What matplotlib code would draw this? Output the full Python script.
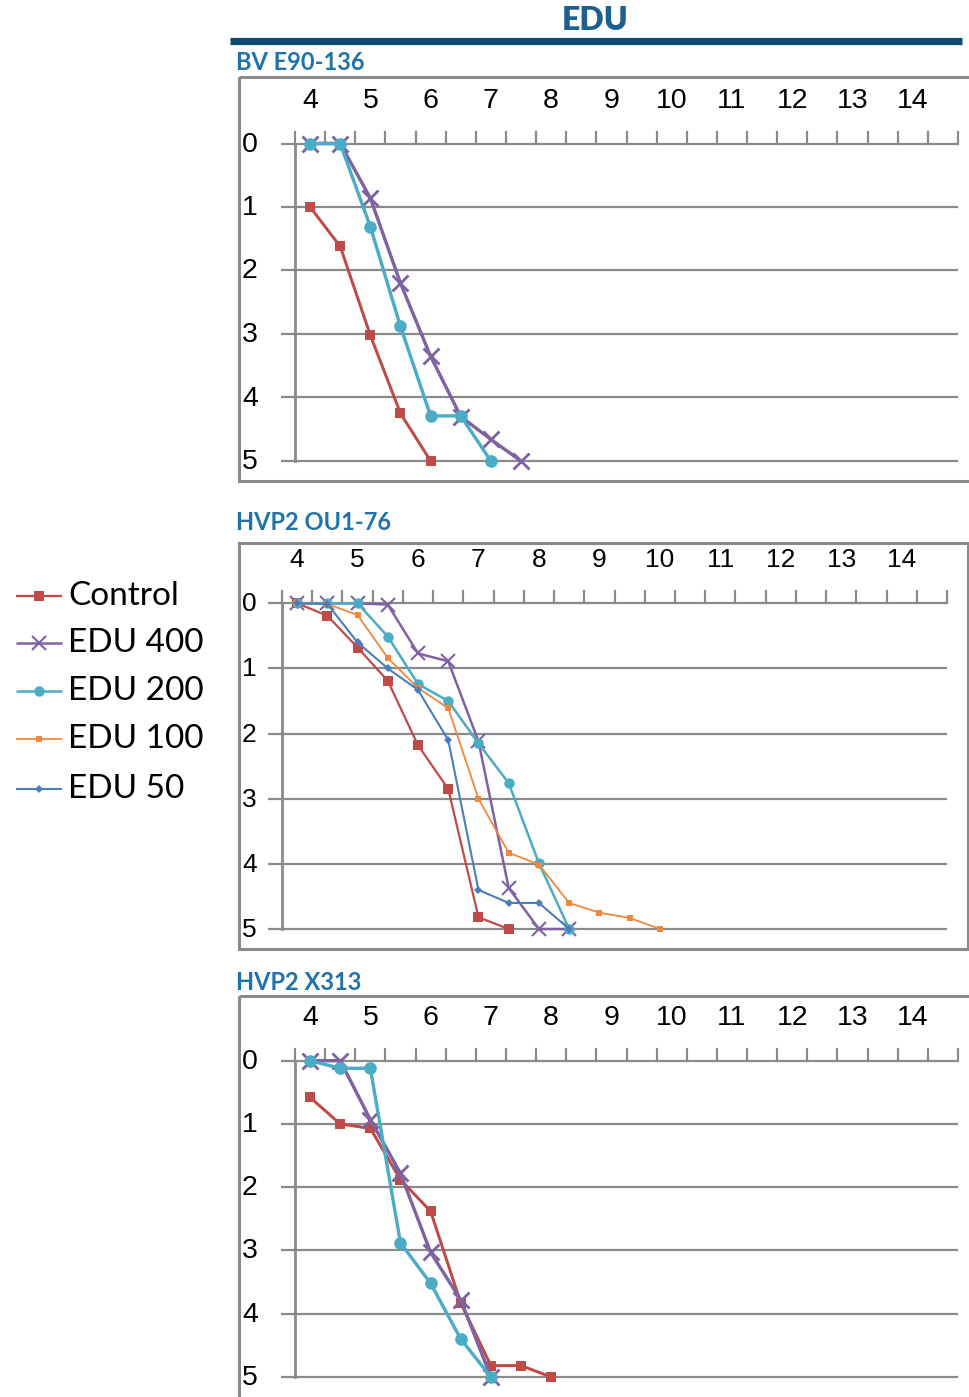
import matplotlib
matplotlib.use("Agg")
import matplotlib.pyplot as plt
from matplotlib.patches import Rectangle

W, H = 969, 1397
DPI = 100

# ---------------- data ----------------
series_names = ["Control", "EDU 400", "EDU 200", "EDU 100", "EDU 50"]
panel_titles = ["BV E90-136", "HVP2 OU1-76", "HVP2 X313"]
x_tick_labels = [4, 5, 6, 7, 8, 9, 10, 11, 12, 13, 14]
y_tick_labels = [0, 1, 2, 3, 4, 5]

# Panel 1: BV E90-136
p1_control_x = [4, 4.5, 5, 5.5, 6]
p1_control_y = [1.0, 1.62, 3.02, 4.25, 5.0]
p1_edu400_x = [4, 4.5, 5, 5.5, 6, 6.5, 7, 7.5]
p1_edu400_y = [0, 0, 0.86, 2.2, 3.35, 4.3, 4.66, 5.0]
p1_edu200_x = [4, 4.5, 5, 5.5, 6, 6.5, 7]
p1_edu200_y = [0, 0, 1.31, 2.88, 4.29, 4.29, 5.0]

# Panel 2: HVP2 OU1-76
p2_control_x = [4, 4.5, 5, 5.5, 6, 6.5, 7, 7.5]
p2_control_y = [0, 0.19, 0.68, 1.19, 2.18, 2.85, 4.82, 5.0]
p2_edu400_x = [4, 4.5, 5, 5.5, 6, 6.5, 7, 7.5, 8, 8.5]
p2_edu400_y = [0, 0, 0, 0.02, 0.77, 0.89, 2.12, 4.37, 5.0, 5.0]
p2_edu200_x = [4, 4.5, 5, 5.5, 6, 6.5, 7, 7.5, 8, 8.5]
p2_edu200_y = [0, 0, 0, 0.51, 1.24, 1.5, 2.15, 2.76, 3.99, 5.0]
p2_edu100_x = [4, 4.5, 5, 5.5, 6, 6.5, 7, 7.5, 8, 8.5, 9, 9.5, 10]
p2_edu100_y = [0, 0.01, 0.18, 0.84, 1.3, 1.61, 3.0, 3.83, 4.01, 4.6, 4.75, 4.83, 5.0]
p2_edu50_x = [4, 4.5, 5, 5.5, 6, 6.5, 7, 7.5, 8, 8.5]
p2_edu50_y = [0, 0.01, 0.6, 1.0, 1.33, 2.1, 4.4, 4.6, 4.6, 5.0]

# Panel 3: HVP2 X313
p3_control_x = [4, 4.5, 5, 5.5, 6, 6.5, 7, 7.5, 8]
p3_control_y = [0.58, 1.0, 1.07, 1.88, 2.38, 3.83, 4.82, 4.82, 5.0]
p3_edu400_x = [4, 4.5, 5, 5.5, 6, 6.5, 7]
p3_edu400_y = [0, 0, 0.93, 1.78, 3.03, 3.78, 5.0]
p3_edu200_x = [4, 4.5, 5, 5.5, 6, 6.5, 7]
p3_edu200_y = [0, 0.12, 0.12, 2.88, 3.52, 4.4, 5.0]

panels_data = [
    {"Control": (p1_control_x, p1_control_y),
     "EDU 400": (p1_edu400_x, p1_edu400_y),
     "EDU 200": (p1_edu200_x, p1_edu200_y)},
    {"Control": (p2_control_x, p2_control_y),
     "EDU 400": (p2_edu400_x, p2_edu400_y),
     "EDU 200": (p2_edu200_x, p2_edu200_y),
     "EDU 100": (p2_edu100_x, p2_edu100_y),
     "EDU 50": (p2_edu50_x, p2_edu50_y)},
    {"Control": (p3_control_x, p3_control_y),
     "EDU 400": (p3_edu400_x, p3_edu400_y),
     "EDU 200": (p3_edu200_x, p3_edu200_y)},
]

# ---------------- styles ----------------
styles = {
    "Control": dict(color="#BE4B48", marker="s", ms=6.5, lw=1.6, mew=0),
    "EDU 400": dict(color="#7E62A1", marker="x", ms=9.5, lw=1.8, mew=1.5),
    "EDU 200": dict(color="#4AACC5", marker="o", ms=7.5, lw=1.8, mew=0),
    "EDU 100": dict(color="#F0883C", marker="s", ms=4.8, lw=1.3, mew=0),
    "EDU 50": dict(color="#4A7EBB", marker="D", ms=3.8, lw=1.5, mew=0),
}

GRAY = "#8A8A8A"
TITLE_BLUE = "#1D5F8E"
SUB_BLUE = "#2172AA"
NAVY = "#0E4A70"
TICK_FONT = ["Liberation Sans", "DejaVu Sans"]
LEG_FONT = ["Lato", "DejaVu Sans"]

fig = plt.figure(figsize=(W / DPI, H / DPI), dpi=DPI)

bg = fig.add_axes([0, 0, 1, 1])
bg.set_xlim(0, W)
bg.set_ylim(H, 0)
bg.axis("off")

def px2fig(x, y):
    return x / W, 1 - y / H

# title
bg.text(595, 20, "EDU", ha="center", va="center", fontsize=23, fontweight="heavy",
        color=TITLE_BLUE, family=LEG_FONT)
bg.plot([230, 962], [41, 41], color=NAVY, lw=5.2, solid_capstyle="butt")

geoms = [
    dict(l=295, r=958, t=143.5, b=461, box=(239, 77, 990, 481), sub=62,
         fs=20.5, lws=1.35),
    dict(l=282, r=947, t=603.3, b=929, box=(239, 543, 968, 949), sub=523,
         fs=19, lws=1.0),
    dict(l=295, r=958, t=1060.7, b=1377, box=(239, 996, 990, 1420), sub=982,
         fs=20.5, lws=1.35),
]

XMIN, XMAX = 3.75, 14.75

for g, title, pdata in zip(geoms, panel_titles, panels_data):
    bl, bt, br, bb = g["box"]
    bg.add_patch(Rectangle((bl, bt), br - bl, bb - bt, fill=False, ec=GRAY, lw=2.2,
                           clip_on=False))
    bg.text(236, g["sub"], title, ha="left", va="center", fontsize=17,
            fontweight="bold", color=SUB_BLUE, family=LEG_FONT)

    fx0, fy1 = px2fig(g["l"], g["t"])
    fx1, fy0 = px2fig(g["r"], g["b"])
    ax = fig.add_axes([fx0, fy0, fx1 - fx0, fy1 - fy0])
    ax.set_xlim(XMIN, XMAX)
    ax.set_ylim(5, 0)
    ax.axis("off")

    xl = XMIN - 14 / ((g["r"] - g["l"]) / (XMAX - XMIN))
    for v in y_tick_labels:
        ax.plot([xl, XMAX], [v, v], color=GRAY, lw=1.6, clip_on=False, zorder=1,
                solid_capstyle="butt")
    ax.plot([XMIN, XMIN], [0, 5], color=GRAY, lw=2.0, clip_on=False, zorder=1)
    unit_y = (g["b"] - g["t"]) / 5
    tick_len = 12 / unit_y
    k = 0
    while XMIN + 0.5 * k <= XMAX + 1e-9:
        xt = XMIN + 0.5 * k
        ax.plot([xt, xt], [0, -tick_len], color=GRAY, lw=1.6, clip_on=False, zorder=1)
        k += 1
    for v in x_tick_labels:
        ax.annotate(str(v), xy=(v, 0), xytext=(0, 43 * 0.72), textcoords="offset points",
                    ha="center", va="center", fontsize=g["fs"], family=TICK_FONT,
                    annotation_clip=False)
    for v in y_tick_labels:
        yp = g["t"] + v * unit_y
        bg.text(242, yp + 1, str(v), ha="left", va="center", fontsize=g["fs"],
                family=TICK_FONT)

    for name in series_names:
        if name not in pdata:
            continue
        xs, ys = pdata[name]
        st = styles[name]
        s = g["lws"]
        ax.plot(xs, ys, color=st["color"], lw=st["lw"] * s, marker=st["marker"],
                ms=st["ms"] * (1 + (s - 1) * 0.6), mew=st["mew"] * s,
                mec=st["color"], mfc=st["color"], clip_on=False, zorder=3)

# legend
leg_rows = [596, 643, 691, 739, 789]
for name, yr in zip(series_names, leg_rows):
    st = styles[name]
    bg.plot([16, 62], [yr, yr], color=st["color"], lw=st["lw"], solid_capstyle="butt")
    bg.plot([39], [yr], color=st["color"], marker=st["marker"], ms=st["ms"],
            mew=st["mew"], mec=st["color"], mfc=st["color"], lw=0)
    bg.text(68, yr, name, ha="left", va="center", fontsize=24, family=LEG_FONT)

fig.savefig("out.png", dpi=DPI)
